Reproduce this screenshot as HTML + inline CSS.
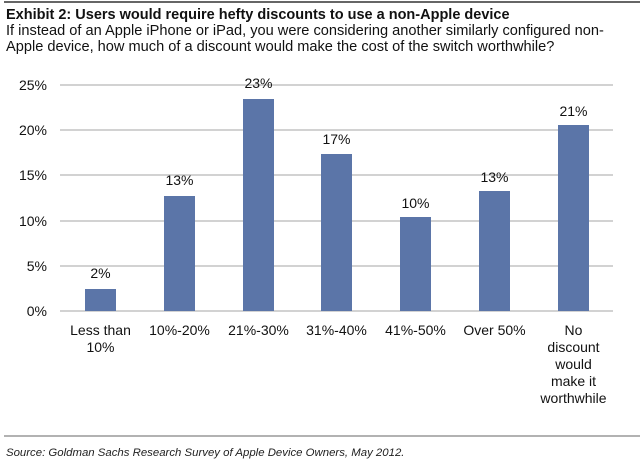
<!DOCTYPE html>
<html><head><style>
body{margin:0;background:#fff;}
svg{display:block;font-family:"Liberation Sans",Arial,sans-serif;}
</style></head><body>
<svg width="640" height="465" viewBox="0 0 640 465">
<rect x="0" y="0" width="640" height="465" fill="#fff"/>
<line x1="4" y1="2" x2="640" y2="2" stroke="#333" stroke-width="1.5"/>
<text x="6" y="19" font-size="14.5" font-weight="bold" fill="#111">Exhibit 2: Users would require hefty discounts to use a non-Apple device</text>
<text x="6" y="35" font-size="14.6" fill="#111">If instead of an Apple iPhone or iPad, you were considering another similarly configured non-</text>
<text x="6" y="51" font-size="14.6" fill="#111">Apple device, how much of a discount would make the cost of the switch worthwhile?</text>
<g stroke="#c4c4c4" stroke-width="1.5">
<line x1="60" y1="85" x2="613" y2="85"/>
<line x1="60" y1="130" x2="613" y2="130"/>
<line x1="60" y1="175" x2="613" y2="175"/>
<line x1="60" y1="221" x2="613" y2="221"/>
<line x1="60" y1="266" x2="613" y2="266"/>
<line x1="60" y1="311" x2="613" y2="311"/>
</g>
<g font-size="14" fill="#111" text-anchor="end">
<text x="47" y="90">25%</text>
<text x="47" y="135">20%</text>
<text x="47" y="180">15%</text>
<text x="47" y="226">10%</text>
<text x="47" y="271">5%</text>
<text x="47" y="316">0%</text>
</g>
<g fill="#5b75a8">
<rect x="85" y="289" width="31" height="22"/>
<rect x="164" y="196" width="31" height="115"/>
<rect x="243" y="99" width="31" height="212"/>
<rect x="321" y="154" width="31" height="157"/>
<rect x="400" y="217" width="31" height="94"/>
<rect x="479" y="191" width="31" height="120"/>
<rect x="558" y="125" width="31" height="186"/>
</g>
<g font-size="14" fill="#111" text-anchor="middle">
<text x="100.5" y="278">2%</text>
<text x="179.5" y="185">13%</text>
<text x="258.5" y="88">23%</text>
<text x="336.5" y="144">17%</text>
<text x="415.5" y="208">10%</text>
<text x="494.5" y="182">13%</text>
<text x="573.5" y="116">21%</text>
<text x="100.5" y="335">Less than</text>
<text x="100.5" y="352">10%</text>
<text x="179.5" y="335">10%-20%</text>
<text x="258.5" y="335">21%-30%</text>
<text x="336.5" y="335">31%-40%</text>
<text x="415.5" y="335">41%-50%</text>
<text x="494.5" y="335">Over 50%</text>
<text x="573.5" y="335">No</text>
<text x="573.5" y="352">discount</text>
<text x="573.5" y="369">would</text>
<text x="573.5" y="386">make it</text>
<text x="573.5" y="403">worthwhile</text>
</g>
<line x1="4" y1="436" x2="640" y2="436" stroke="#999" stroke-width="1.5"/>
<text x="6" y="456" font-size="11.4" font-style="italic" fill="#222">Source: Goldman Sachs Research Survey of Apple Device Owners, May 2012.</text>
</svg>
</body></html>
